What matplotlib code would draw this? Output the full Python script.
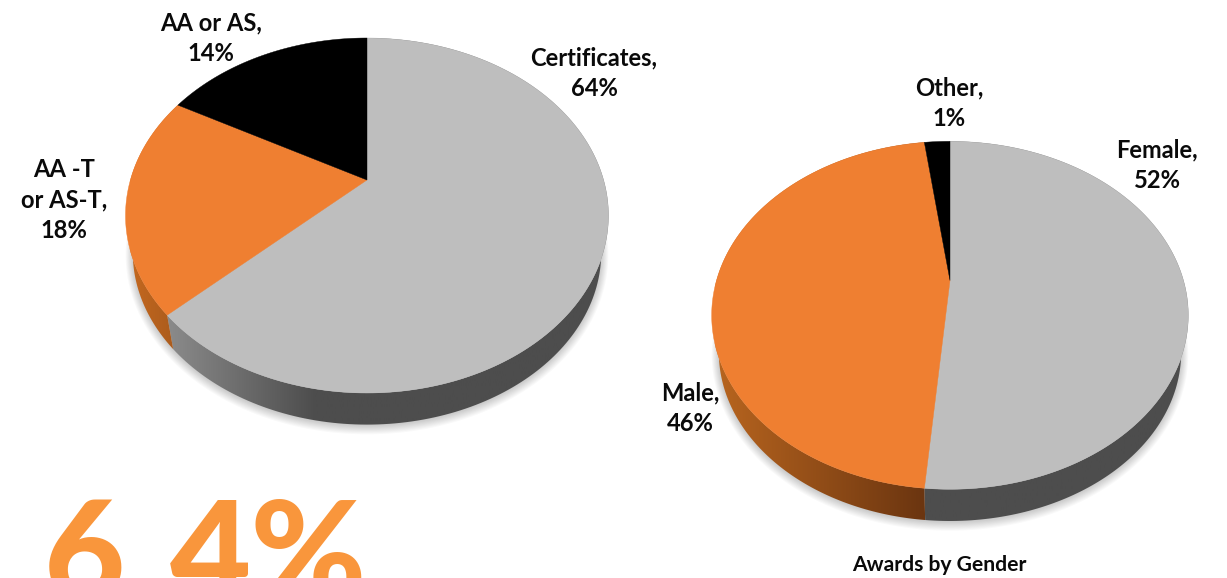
import numpy as np
import matplotlib
matplotlib.use('Agg')
import matplotlib.pyplot as plt
from matplotlib.colors import LinearSegmentedColormap
from matplotlib.patches import Polygon

plt.rcParams['font.family'] = ['Lato', 'DejaVu Sans']
plt.rcParams['font.weight'] = 'bold'

# slice shares as measured on the picture, clockwise from 12 o'clock
award_shares = [63, 20, 17]
award_labels = ['Certificates,\n64%', 'AA -T\nor AS-T,\n18%', 'AA or AS,\n14%']
gender_shares = [51.4, 46.5, 2.1]
gender_labels = ['Female,\n52%', 'Male,\n46%', 'Other,\n1%']
chart_title = 'Awards by Gender'
big_digit = '6'
big_rest = '4%'

GRAY = '#bebebe'
ORANGE = '#ef7f31'
BLACK = '#000000'
top_colors = [GRAY, ORANGE, BLACK]
K = 0.2  # perspective strength


def rim(theta, cx, cy, a, b, shrink=1.0, drop=0.0):
    u, v = np.sin(theta), np.cos(theta)
    den = 1 + K * v
    return cx + shrink * a * u / den, cy - shrink * b * v / den + drop


def draw_wall(ax, th, geo, depth, colors, x0, x1):
    x1s, y1s = rim(th, *geo)
    x2s, y2s = rim(th, *geo, shrink=0.97, drop=depth)
    pts = np.r_[np.c_[x1s, y1s], np.c_[x2s, y2s][::-1]]
    poly = Polygon(pts, closed=True, fc='none', ec='none', transform=ax.transData)
    ax.add_patch(poly)
    cmap = LinearSegmentedColormap.from_list('wall', colors)
    grad = np.linspace(0, 1, 256).reshape(1, -1)
    im = ax.imshow(grad, cmap=cmap, extent=(x0, x1, 600, 0), aspect='auto', zorder=2)
    im.set_clip_path(poly)


def draw_pie(ax, shares, geo, depth, wall_styles):
    cx, cy, a, b = geo
    # soft shadow below the disc
    th = np.linspace(0, 2 * np.pi, 300)
    for i in range(9):
        xs, ys = rim(th, cx, cy, a + i * 0.9, b + i * 0.9, shrink=0.97, drop=depth + 1)
        ax.fill(xs, ys, color='black', alpha=0.022, lw=0, zorder=1)
    edges = np.cumsum([0] + list(shares)) / sum(shares) * 2 * np.pi
    for i, col in enumerate(top_colors):
        t = np.linspace(edges[i], edges[i + 1], 200)
        if wall_styles[i] is not None:
            colors, x0, x1 = wall_styles[i]
            draw_wall(ax, t, geo, depth, colors, x0, x1)
    for i, col in enumerate(top_colors):
        t = np.linspace(edges[i], edges[i + 1], 200)
        xs, ys = rim(t, *geo)
        ax.fill(np.r_[cx, xs], np.r_[cy, ys], color=col, lw=0.3, zorder=3)


fig = plt.figure(figsize=(12.27, 5.78), dpi=100)
ax = fig.add_axes([0, 0, 1, 1])

# left pie
geo_left = (367, 180, 236.6, 170.4)
draw_pie(ax, award_shares, geo_left, 38, [
    (['#8c8c8c', '#4d4d4d', '#4d4d4d', '#4d4d4d'], 165, 615),
    (['#c4681f', '#a85a1c'], 130, 180),
    None,
])
# right pie
geo_right = (950, 280.5, 233.5, 167)
draw_pie(ax, gender_shares, geo_right, 38, [
    (['#4d4d4d', '#4d4d4d'], 920, 1195),
    (['#b8651f', '#6b3510'], 715, 925),
    None,
])

ax.set_xlim(0, 1227)
ax.set_ylim(578, 0)
ax.axis('off')

txt = dict(ha='center', va='center', ma='center', fontsize=17.1, linespacing=1.38,
           color='#0a0a0a', zorder=5)
ax.text(594, 73, award_labels[0], **txt)
ax.text(64, 200, award_labels[1], **txt)
ax.text(211, 38, award_labels[2], **txt)
ax.text(1157, 165, gender_labels[0], **txt)
ax.text(690, 408, gender_labels[1], **txt)
ax.text(949, 103, gender_labels[2], **txt)
ax.text(939, 565, chart_title, ha='center', va='center', fontsize=15.2, color='#0a0a0a')

big = dict(ha='left', va='baseline', fontsize=101, color='#f9963c', fontweight='black')
ax.text(44, 601, big_digit, **big)
ax.text(170, 601, big_rest, **big)

fig.savefig('out.png', dpi=100)
